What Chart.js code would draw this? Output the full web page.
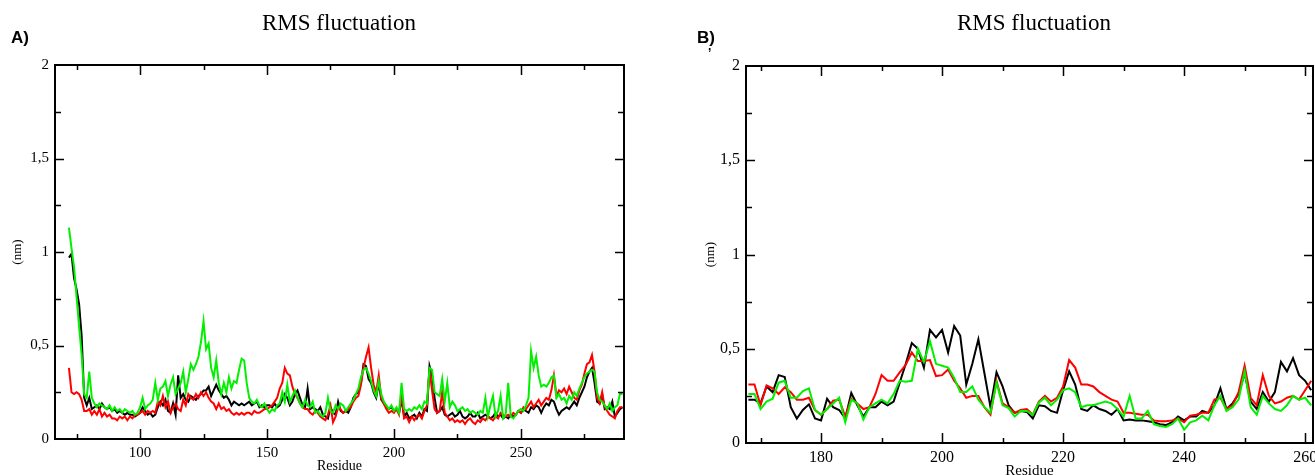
<!DOCTYPE html>
<html>
<head>
<meta charset="utf-8">
<title>RMS fluctuation</title>
<script src="https://cdn.jsdelivr.net/npm/chart.js@4.4.1/dist/chart.umd.min.js"></script>
<style>
  html, body { margin: 0; padding: 0; background: #fff; overflow: hidden; width: 1315px; height: 475px; }
  .panel { position: absolute; top: 0; }
  #panelA { left: 0; }
  #panelB { left: 655px; }
</style>
</head>
<body>
<div class="panel" id="panelA"><canvas id="chartA" width="655" height="475"></canvas></div>
<div class="panel" id="panelB"><canvas id="chartB" width="700" height="480"></canvas></div>
<script>
// --- data (nm), one value per residue ---
const yTickLabels = ['0', '0,5', '1', '1,5', '2'];

// panel A : residues 72..290
const startA = 72;
const blackA = [
  0.97,0.99,0.86,0.80,0.72,0.55,0.22,0.18,
  0.22,0.16,0.17,0.18,0.16,0.19,0.17,0.16,0.17,0.15,
  0.16,0.14,0.15,0.14,0.13,0.14,0.13,0.13,0.12,0.13,
  0.14,0.17,0.15,0.13,0.14,0.12,0.13,0.17,0.20,0.18,
  0.21,0.15,0.14,0.19,0.13,0.34,0.22,0.24,0.21,0.20,
  0.23,0.22,0.21,0.23,0.24,0.26,0.26,0.28,0.23,0.26,
  0.29,0.26,0.24,0.22,0.23,0.21,0.18,0.20,0.19,0.18,
  0.19,0.18,0.19,0.20,0.18,0.19,0.20,0.17,0.18,0.17,
  0.18,0.18,0.17,0.19,0.17,0.18,0.21,0.24,0.22,0.18,
  0.20,0.24,0.26,0.22,0.18,0.17,0.27,0.16,0.17,0.16,
  0.15,0.17,0.13,0.12,0.11,0.17,0.14,0.13,0.20,0.15,
  0.14,0.15,0.14,0.17,0.22,0.24,0.25,0.30,0.40,0.39,
  0.32,0.30,0.25,0.22,0.30,0.21,0.19,0.17,0.16,0.17,
  0.15,0.16,0.14,0.21,0.12,0.14,0.11,0.12,0.13,0.11,
  0.14,0.12,0.16,0.15,0.39,0.34,0.22,0.14,0.15,0.17,
  0.13,0.12,0.13,0.14,0.12,0.13,0.15,0.12,0.11,0.12,
  0.14,0.12,0.12,0.14,0.11,0.12,0.13,0.12,0.11,0.12,
  0.14,0.12,0.13,0.11,0.12,0.11,0.13,0.12,0.13,0.15,
  0.14,0.16,0.15,0.14,0.17,0.16,0.18,0.17,0.14,0.17,
  0.19,0.18,0.21,0.20,0.16,0.13,0.15,0.16,0.17,0.16,
  0.18,0.20,0.18,0.22,0.25,0.28,0.33,0.36,0.38,0.30,
  0.20,0.19,0.24,0.16,0.17,0.16,0.20,0.12,0.14,0.16,
  0.17
];
const redA = [
  0.38,0.25,0.24,0.25,0.24,0.21,0.15,0.15,
  0.16,0.13,0.15,0.13,0.16,0.12,0.14,0.12,0.13,0.11,
  0.11,0.10,0.12,0.11,0.12,0.10,0.12,0.11,0.13,0.13,
  0.14,0.15,0.13,0.15,0.14,0.15,0.14,0.20,0.18,0.23,
  0.17,0.20,0.14,0.17,0.19,0.16,0.15,0.21,0.18,0.24,
  0.22,0.21,0.24,0.22,0.25,0.23,0.25,0.22,0.20,0.19,
  0.16,0.19,0.16,0.17,0.15,0.16,0.14,0.13,0.14,0.13,
  0.14,0.13,0.14,0.14,0.13,0.15,0.14,0.14,0.15,0.16,
  0.16,0.17,0.18,0.20,0.22,0.27,0.30,0.38,0.35,0.34,
  0.28,0.24,0.22,0.19,0.17,0.16,0.16,0.14,0.13,0.15,
  0.14,0.12,0.11,0.10,0.13,0.18,0.09,0.12,0.17,0.16,
  0.14,0.15,0.16,0.17,0.20,0.22,0.23,0.29,0.38,0.44,
  0.49,0.38,0.29,0.25,0.34,0.22,0.19,0.16,0.14,0.15,
  0.14,0.16,0.13,0.24,0.11,0.12,0.09,0.12,0.10,0.12,
  0.13,0.11,0.15,0.18,0.37,0.26,0.16,0.14,0.15,0.25,
  0.14,0.12,0.10,0.11,0.09,0.10,0.09,0.10,0.08,0.10,
  0.11,0.09,0.08,0.10,0.09,0.11,0.10,0.12,0.11,0.10,
  0.12,0.11,0.14,0.13,0.12,0.13,0.12,0.14,0.13,0.15,
  0.14,0.17,0.16,0.18,0.20,0.17,0.19,0.21,0.18,0.20,
  0.22,0.21,0.26,0.34,0.23,0.26,0.25,0.27,0.24,0.28,
  0.25,0.22,0.21,0.26,0.29,0.35,0.40,0.41,0.45,0.36,
  0.22,0.19,0.25,0.17,0.15,0.13,0.12,0.11,0.15,0.17,
  0.17
];
const greenA = [
  1.13,1.02,0.92,0.76,0.60,0.45,0.24,0.22,
  0.36,0.22,0.19,0.17,0.19,0.18,0.17,0.16,0.18,0.15,
  0.17,0.15,0.16,0.14,0.16,0.15,0.14,0.15,0.13,0.14,
  0.17,0.22,0.16,0.18,0.19,0.21,0.30,0.21,0.27,0.28,
  0.31,0.23,0.29,0.33,0.24,0.27,0.30,0.36,0.25,0.32,
  0.40,0.37,0.40,0.44,0.52,0.63,0.48,0.51,0.38,0.33,
  0.42,0.30,0.24,0.30,0.25,0.33,0.27,0.31,0.30,0.37,
  0.43,0.42,0.30,0.22,0.20,0.19,0.21,0.18,0.17,0.19,
  0.16,0.14,0.16,0.15,0.18,0.19,0.25,0.20,0.29,0.20,
  0.23,0.26,0.22,0.19,0.17,0.21,0.18,0.17,0.20,0.14,
  0.15,0.13,0.12,0.14,0.22,0.15,0.14,0.18,0.16,0.19,
  0.18,0.15,0.17,0.19,0.21,0.24,0.27,0.33,0.37,0.38,
  0.35,0.31,0.26,0.23,0.31,0.24,0.20,0.18,0.16,0.18,
  0.15,0.17,0.14,0.30,0.16,0.15,0.16,0.15,0.17,0.16,
  0.18,0.16,0.20,0.19,0.38,0.37,0.25,0.24,0.23,0.32,
  0.20,0.30,0.17,0.20,0.18,0.15,0.16,0.17,0.15,0.16,
  0.14,0.15,0.14,0.13,0.15,0.14,0.22,0.12,0.18,0.23,
  0.12,0.15,0.23,0.11,0.13,0.30,0.12,0.11,0.13,0.15,
  0.16,0.15,0.18,0.22,0.47,0.38,0.44,0.34,0.28,0.29,
  0.28,0.30,0.33,0.34,0.22,0.24,0.21,0.22,0.19,0.23,
  0.21,0.25,0.23,0.27,0.30,0.33,0.35,0.36,0.37,0.36,
  0.25,0.21,0.20,0.18,0.16,0.19,0.15,0.17,0.18,0.24,
  0.24
];

// panel B : residues 168..261
const startB = 168;
const blackB = [
  0.23,0.23,0.21,0.30,0.27,0.36,0.35,0.19,0.13,0.175,
  0.205,0.13,0.12,0.235,0.19,0.175,0.13,0.265,0.20,0.14,
  0.19,0.19,0.22,0.20,0.22,0.32,0.42,0.53,0.50,0.40,
  0.60,0.56,0.60,0.48,0.62,0.57,0.31,0.42,0.55,0.37,
  0.19,0.375,0.30,0.20,0.16,0.17,0.165,0.13,0.20,0.195,
  0.17,0.16,0.28,0.38,0.31,0.18,0.17,0.20,0.18,0.17,
  0.15,0.18,0.12,0.125,0.12,0.12,0.115,0.11,0.10,0.095,
  0.11,0.14,0.12,0.14,0.14,0.17,0.16,0.20,0.29,0.18,
  0.21,0.26,0.37,0.22,0.18,0.27,0.22,0.27,0.43,0.38,
  0.45,0.36,0.33,0.28
];
const redB = [
  0.31,0.31,0.20,0.305,0.29,0.26,0.295,0.27,0.23,0.23,
  0.24,0.175,0.15,0.18,0.225,0.23,0.14,0.235,0.21,0.18,
  0.19,0.26,0.36,0.33,0.33,0.375,0.415,0.48,0.435,0.435,
  0.44,0.355,0.36,0.39,0.33,0.29,0.24,0.25,0.25,0.19,
  0.15,0.33,0.21,0.19,0.16,0.175,0.18,0.15,0.22,0.25,
  0.22,0.24,0.30,0.44,0.40,0.31,0.31,0.30,0.27,0.25,
  0.23,0.22,0.16,0.16,0.155,0.15,0.15,0.12,0.115,0.115,
  0.12,0.13,0.11,0.145,0.15,0.16,0.16,0.23,0.24,0.18,
  0.20,0.27,0.41,0.24,0.20,0.36,0.25,0.21,0.22,0.24,
  0.25,0.23,0.28,0.33
];
const greenB = [
  0.26,0.26,0.18,0.22,0.235,0.32,0.33,0.24,0.24,0.275,
  0.29,0.175,0.15,0.18,0.21,0.24,0.11,0.23,0.21,0.125,
  0.19,0.21,0.23,0.21,0.26,0.33,0.325,0.33,0.50,0.43,
  0.54,0.42,0.41,0.40,0.345,0.27,0.27,0.30,0.23,0.19,
  0.16,0.32,0.20,0.185,0.14,0.17,0.17,0.15,0.215,0.24,
  0.20,0.23,0.28,0.29,0.27,0.19,0.20,0.20,0.21,0.22,
  0.21,0.18,0.14,0.25,0.13,0.13,0.17,0.10,0.09,0.085,
  0.10,0.13,0.07,0.11,0.12,0.145,0.12,0.20,0.25,0.17,
  0.19,0.23,0.38,0.19,0.15,0.25,0.21,0.18,0.17,0.20,
  0.25,0.23,0.24,0.20
];

const SERIF = "'Liberation Serif', 'Times New Roman', serif";
const SANS = "'Liberation Sans', Arial, sans-serif";

const toPoints = (vals, start) => vals.map((v, i) => ({ x: start + i, y: v }));

// frame box with inward ticks on all four sides, plus the titles
const framePlugin = {
    id: 'frame',
    afterDraw(chart, args, o) {
        const { ctx, chartArea: a, scales: { x, y } } = chart;
        ctx.save();
        ctx.strokeStyle = '#000';
        ctx.lineWidth = 2;
        ctx.strokeRect(a.left, a.top, a.right - a.left, a.bottom - a.top);

        ctx.lineWidth = 1.5;
        ctx.beginPath();
        for (let v = Math.ceil(x.min / o.xMinor) * o.xMinor; v <= x.max; v += o.xMinor) {
            const px = Math.round(x.getPixelForValue(v)) + 0.5;
            const len = v % o.xMajor === 0 ? 10 : 5;
            ctx.moveTo(px, a.bottom); ctx.lineTo(px, a.bottom - len);
            ctx.moveTo(px, a.top); ctx.lineTo(px, a.top + len);
        }
        for (let v = 0.25; v < y.max; v += 0.25) {
            const py = Math.round(y.getPixelForValue(v)) + 0.5;
            const len = (v * 2) % 1 === 0 ? 9 : 6;
            ctx.moveTo(a.left, py); ctx.lineTo(a.left + len, py);
            ctx.moveTo(a.right, py); ctx.lineTo(a.right - len, py);
        }
        ctx.stroke();

        ctx.fillStyle = '#000';
        ctx.textBaseline = 'middle';
        ctx.textAlign = 'center';
        ctx.font = `${o.titleSize}px ${SERIF}`;
        ctx.fillText('RMS fluctuation', o.titleX, 24);

        ctx.textAlign = 'left';
        ctx.font = `bold 17px ${SANS}`;
        ctx.fillText(o.panel, o.panelX, 38);
        if (o.mark) {
            ctx.font = `bold 12px ${SANS}`;
            ctx.fillText(o.mark, o.panelX + 11, 47);
        }
        ctx.restore();
    }
};

function makeChart(id, cfg) {
    const datasets = [
        { label: 'set2', data: toPoints(cfg.green, cfg.start), borderColor: '#00f000', order: 0 },
        { label: 'set1', data: toPoints(cfg.red, cfg.start), borderColor: '#ff0000', order: 1 },
        { label: 'set0', data: toPoints(cfg.black, cfg.start), borderColor: '#000000', order: 2 }
    ].map(d => Object.assign(d, { borderWidth: 2, pointRadius: 0, tension: 0, fill: false }));

    return new Chart(document.getElementById(id), {
        type: 'line',
        data: { datasets },
        options: {
            responsive: false,
            animation: false,
            devicePixelRatio: 1,
            layout: { padding: cfg.padding },
            plugins: {
                legend: { display: false },
                tooltip: { enabled: false },
                frame: cfg.frame
            },
            scales: {
                x: {
                    type: 'linear',
                    min: cfg.xMin,
                    max: cfg.xMax,
                    grid: { display: false, drawTicks: false },
                    border: { display: false },
                    ticks: {
                        stepSize: cfg.xStep,
                        includeBounds: false,
                        padding: 5,
                        maxRotation: 0,
                        color: '#000',
                        font: { family: SERIF, size: cfg.tickSize }
                    },
                    title: {
                        display: true,
                        text: 'Residue',
                        color: '#000',
                        padding: { top: 0, bottom: 0 },
                        font: { family: SERIF, size: cfg.tickSize - 1 }
                    },
                    afterFit: s => { s.height = cfg.xAxisH; }
                },
                y: {
                    min: 0,
                    max: 2,
                    grid: { display: false, drawTicks: false },
                    border: { display: false },
                    ticks: {
                        stepSize: 0.5,
                        padding: 6,
                        color: '#000',
                        font: { family: SERIF, size: cfg.tickSize },
                        callback: v => yTickLabels[Math.round(v / 0.5)]
                    },
                    title: {
                        display: true,
                        text: '(nm)',
                        color: '#000',
                        padding: { top: cfg.yTitlePad, bottom: 0 },
                        font: { family: SERIF, size: 13 }
                    },
                    afterFit: s => { s.width = 55; }
                }
            }
        },
        plugins: [framePlugin]
    });
}

makeChart('chartA', {
    start: startA, black: blackA, red: redA, green: greenA,
    xMin: 66.5, xMax: 290.6, xStep: 50,
    tickSize: 15, xAxisH: 36, yTitlePad: 10,
    padding: { left: 0, top: 65, right: 31, bottom: 0 },
    frame: { xMinor: 25, xMajor: 50, titleX: 339, titleSize: 23, panel: 'A)', panelX: 11 }
});

makeChart('chartB', {
    start: startB, black: blackB, red: redB, green: greenB,
    xMin: 167.6, xMax: 261.3, xStep: 20,
    tickSize: 16, xAxisH: 37, yTitlePad: 12,
    padding: { left: 36, top: 66, right: 42, bottom: 0 },
    frame: { xMinor: 10, xMajor: 20, titleX: 379, titleSize: 23, panel: 'B)', panelX: 42, mark: ',' }
});
</script>
</body>
</html>
